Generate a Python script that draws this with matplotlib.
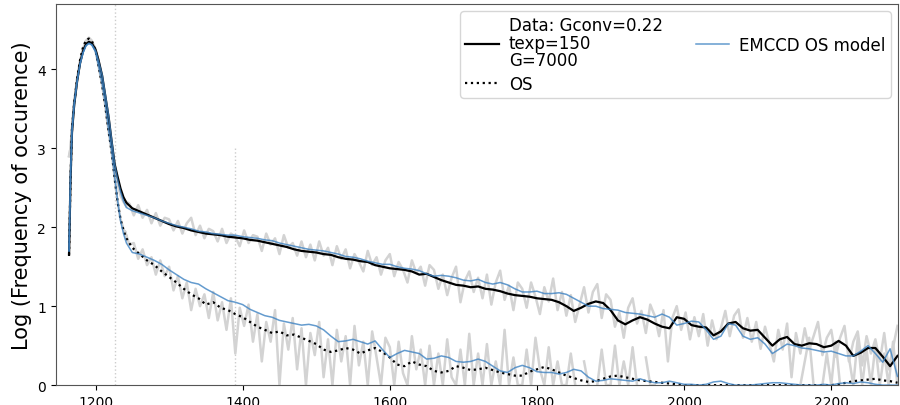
import numpy as np
import matplotlib
matplotlib.use("Agg")
import matplotlib.pyplot as plt

nan = np.nan

# ---- peak region (shared x) ----
peak_x = [1164, 1166, 1168, 1171, 1175, 1179, 1183, 1187, 1191, 1195, 1200,
          1204, 1209, 1213, 1218, 1222, 1226, 1230, 1234, 1238, 1242]
up_black_peak = [1.65, 2.60, 3.20, 3.55, 3.85, 4.08, 4.23, 4.32, 4.35, 4.33, 4.25,
                 4.12, 3.92, 3.68, 3.38, 3.08, 2.80, 2.64, 2.49, 2.38, 2.31]
up_blue_peak = [1.70, 2.65, 3.22, 3.56, 3.85, 4.07, 4.21, 4.30, 4.33, 4.31, 4.24,
                4.11, 3.93, 3.70, 3.40, 3.10, 2.80, 2.60, 2.45, 2.33, 2.25]
lo_black_peak = [1.65, 2.60, 3.25, 3.58, 3.88, 4.12, 4.28, 4.37, 4.39, 4.36, 4.24,
                 4.05, 3.80, 3.55, 3.20, 2.95, 2.62, 2.32, 2.10, 1.96, 1.86]
lo_blue_peak = [1.70, 2.65, 3.22, 3.56, 3.85, 4.07, 4.21, 4.30, 4.33, 4.31, 4.22,
                4.05, 3.82, 3.58, 3.22, 2.96, 2.64, 2.34, 2.08, 1.92, 1.80]
gray_peak = [2.90, 3.00, 3.25, 3.58, 3.88, 4.10, 4.26, 4.36, 4.40, 4.36, 4.26,
             4.10, 3.88, 3.64, 3.32, 3.05, 2.75, 2.55, 2.40, 2.32, 2.26]
gray_lo_peak = [2.90, 3.00, 3.25, 3.58, 3.88, 4.10, 4.26, 4.36, 4.40, 4.36, 4.24,
                4.05, 3.80, 3.55, 3.20, 2.95, 2.62, 2.32, 2.10, 1.98, 1.88]

# ---- smoothed curves, every 10 from 1250 to 2290 ----
up_black = [2.24, 2.20, 2.16, 2.12, 2.08, 2.04, 2.01, 1.99, 1.96, 1.94,
            1.92, 1.91, 1.90, 1.88, 1.87, 1.86, 1.84, 1.83, 1.81, 1.79,
            1.77, 1.75, 1.72, 1.70, 1.69, 1.68, 1.66, 1.65, 1.62, 1.60,
            1.59, 1.57, 1.56, 1.52, 1.50, 1.48, 1.47, 1.46, 1.44, 1.40,
            1.41, 1.37, 1.33, 1.30, 1.27, 1.26, 1.24, 1.25, 1.22, 1.21,
            1.19, 1.16, 1.14, 1.13, 1.12, 1.10, 1.09, 1.08, 1.05, 1.00,
            0.94, 0.98, 1.03, 1.06, 1.04, 0.95, 0.82, 0.77, 0.82, 0.86,
            0.83, 0.78, 0.74, 0.72, 0.86, 0.84, 0.76, 0.74, 0.73, 0.63,
            0.68, 0.78, 0.80, 0.72, 0.69, 0.70, 0.60, 0.50, 0.58, 0.61,
            0.52, 0.50, 0.53, 0.52, 0.48, 0.50, 0.56, 0.50, 0.37, 0.41,
            0.47, 0.47, 0.36, 0.24, 0.37]
up_blue = [2.21, 2.18, 2.15, 2.12, 2.08, 2.05, 2.02, 2.00, 1.98, 1.95,
           1.94, 1.92, 1.91, 1.90, 1.90, 1.88, 1.87, 1.86, 1.84, 1.83,
           1.80, 1.78, 1.76, 1.74, 1.72, 1.71, 1.70, 1.68, 1.66, 1.63,
           1.62, 1.60, 1.57, 1.55, 1.53, 1.53, 1.50, 1.48, 1.47, 1.45,
           1.41, 1.38, 1.39, 1.38, 1.36, 1.33, 1.32, 1.34, 1.30, 1.28,
           1.30, 1.27, 1.22, 1.18, 1.18, 1.19, 1.16, 1.16, 1.17, 1.15,
           1.10, 1.05, 1.00, 1.00, 0.97, 0.96, 0.95, 0.92, 0.91, 0.90,
           0.88, 0.86, 0.90, 0.86, 0.76, 0.78, 0.81, 0.80, 0.70, 0.58,
           0.62, 0.78, 0.76, 0.62, 0.58, 0.60, 0.52, 0.40, 0.46, 0.52,
           0.50, 0.47, 0.46, 0.44, 0.42, 0.43, 0.40, 0.37, 0.37, 0.43,
           0.50, 0.40, 0.29, 0.46, 0.11]
lo_black = [1.74, 1.66, 1.58, 1.52, 1.44, 1.37, 1.30, 1.22, 1.15, 1.10,
            1.02, 1.05, 0.98, 0.95, 0.90, 0.86, 0.80, 0.74, 0.70, 0.66,
            0.68, 0.63, 0.64, 0.60, 0.56, 0.52, 0.45, 0.42, 0.44, 0.47,
            0.45, 0.40, 0.44, 0.47, 0.42, 0.35, 0.26, 0.24, 0.30, 0.26,
            0.24, 0.18, 0.16, 0.18, 0.24, 0.22, 0.19, 0.20, 0.22, 0.19,
            0.16, 0.14, 0.12, 0.12, 0.17, 0.20, 0.23, 0.20, 0.16, 0.12,
            0.09, 0.06, 0.04, 0.05, 0.08, 0.11, 0.12, 0.10, 0.08, 0.06,
            0.05, 0.04, 0.03, 0.02, 0.01, 0.00, 0.00, 0.00, 0.00, 0.00,
            0.00, 0.00, 0.00, 0.00, 0.00, 0.00, 0.00, 0.00, 0.00, 0.00,
            0.00, 0.00, 0.00, 0.00, 0.00, 0.00, 0.01, 0.03, 0.05, 0.06,
            0.07, 0.08, 0.06, 0.05, 0.03]
lo_blue = [1.68, 1.66, 1.62, 1.58, 1.53, 1.46, 1.40, 1.34, 1.30, 1.28,
           1.22, 1.17, 1.12, 1.07, 1.05, 1.02, 0.96, 0.92, 0.88, 0.86,
           0.82, 0.80, 0.78, 0.76, 0.77, 0.75, 0.70, 0.62, 0.55, 0.56,
           0.58, 0.55, 0.52, 0.56, 0.45, 0.35, 0.40, 0.44, 0.42, 0.40,
           0.33, 0.34, 0.37, 0.35, 0.30, 0.29, 0.30, 0.33, 0.30, 0.24,
           0.18, 0.16, 0.22, 0.25, 0.22, 0.17, 0.16, 0.16, 0.14, 0.16,
           0.20, 0.18, 0.10, 0.05, 0.06, 0.08, 0.07, 0.06, 0.05, 0.08,
           0.05, 0.03, 0.03, 0.05, 0.03, 0.01, 0.01, 0.00, 0.01, 0.04,
           0.05, 0.02, 0.00, 0.00, 0.00, 0.01, 0.02, 0.03, 0.03, 0.02,
           0.01, 0.00, 0.00, 0.00, 0.01, 0.00, 0.02, 0.03, 0.02, 0.04,
           0.03, 0.01, 0.00, 0.00, 0.00]

# ---- raw (gray) data, every 6 from 1240 to 2290 ----
up_gray = [2.33, 2.30, 2.15, 2.28, 2.12, 2.22, 2.05, 2.18, 2.02, 2.12,
           2.10, 1.96, 2.08, 1.92, 2.05, 2.12, 1.90, 2.02, 1.86, 1.98,
           1.95, 1.82, 1.98, 1.80, 1.92, 1.88, 1.76, 1.96, 1.80, 1.90,
           1.88, 1.70, 1.92, 1.78, 1.86, 1.66, 1.90, 1.74, 1.80, 1.64,
           1.82, 1.62, 1.78, 1.58, 1.82, 1.64, 1.74, 1.52, 1.76, 1.60,
           1.72, 1.48, 1.66, 1.56, 1.44, 1.70, 1.52, 1.62, 1.40, 1.58,
           1.66, 1.38, 1.56, 1.46, 1.30, 1.58, 1.42, 1.50, 1.26, 1.52,
           1.46, 1.22, 1.40, 1.14, 1.36, 1.50, 1.05, 1.32, 1.44, 1.18,
           1.36, 1.10, 1.40, 1.02, 1.30, 1.45, 1.08, 1.26, 0.95, 1.30,
           1.22, 0.98, 1.30, 1.12, 0.90, 1.24, 1.06, 1.35, 0.95, 1.18,
           0.88, 1.14, 0.80, 1.02, 1.24, 0.92, 1.18, 1.28, 0.85, 1.15,
           1.08, 0.74, 0.92, 0.60, 0.98, 1.10, 0.78, 0.94, 0.66, 1.02,
           0.88, 0.62, 0.95, 0.30, 0.85, 1.00, 0.70, 0.92, 0.58, 0.86,
           0.62, 0.90, 0.50, 0.82, 0.58, 0.72, 0.94, 0.62, 0.88, 0.96,
           0.60, 0.85, 0.55, 0.80, 0.46, 0.74, 0.52, 0.30, 0.70, 0.45,
           0.78, 0.10, 0.66, 0.40, 0.72, 0.45, 0.62, 0.80, 0.38, 0.60,
           0.70, 0.36, 0.60, 0.75, 0.30, 0.55, 0.68, 0.25, 0.62, 0.40,
           0.58, 0.30, 0.66, 0.20, 0.48, 0.75]
lo_gray = [1.95, 1.78, 1.80, 1.60, 1.72, 1.52, 1.62, 1.40, 1.58, 1.38,
           1.50, 1.20, 1.38, 1.10, 1.30, 0.95, 1.22, 1.00, 1.15, 0.85,
           1.18, 0.82, 1.05, 0.70, 1.10, 0.40, 0.98, 0.75, 1.02, 0.55,
           0.90, 0.30, 0.80, 0.55, 0.95, 0.00, 0.78, 0.45, 0.85, 0.20,
           0.72, 0.00, 0.66, 0.38, 0.80, 0.10, 0.58, 0.00, 0.70, 0.30,
           0.62, 0.00, 0.75, 0.25, 0.55, 0.00, 0.68, 0.35, 0.00, 0.60,
           0.48, 0.00, 0.55, 0.15, 0.00, 0.62, 0.20, 0.45, 0.00, 0.50,
           0.00, 0.40, 0.00, 0.58, 0.10, 0.00, 0.45, 0.00, 0.65, 0.00,
           0.40, 0.00, 0.52, 0.00, 0.30, 0.00, 0.70, 0.00, 0.35, 0.00,
           0.00, 0.45, 0.00, 0.60, 0.20, 0.00, 0.48, 0.00, 0.30, 0.00,
           0.00, 0.40, 0.00, nan, 0.30, 0.00, nan, 0.00, 0.45, 0.00,
           0.00, 0.50, 0.00, 0.30, 0.00, 0.48, 0.00, nan, 0.35, 0.00,
           0.00, nan, nan, 0.00, nan, nan, nan, nan, nan, nan,
           nan, nan, nan, nan, 0.00, nan, nan, nan, nan, nan,
           nan, nan, nan, nan, nan, nan, nan, 0.00, nan, nan,
           0.00, nan, nan, 0.00, 0.30, 0.60, 0.00, nan, 0.00, 0.40,
           0.00, 0.55, 0.00, nan, 0.35, 0.00, 0.60, 0.00, 0.45, 0.00,
           0.50, 0.00, 0.40, 0.00, 0.55, 0.00]

x_smooth = np.concatenate([peak_x, np.arange(1250, 2291, 10)])
x_gray = np.concatenate([peak_x, np.arange(1240, 2291, 6)])

blue = '#3d82c2'
gray = '#d3d3d3'

fig, ax = plt.subplots(figsize=(9, 4.06), dpi=100)
fig.subplots_adjust(left=0.062, right=0.998, bottom=0.049, top=0.988)

ax.plot(x_gray, gray_peak + up_gray, color=gray, lw=1.8, zorder=1)
ax.plot(x_gray, gray_lo_peak + lo_gray, color=gray, lw=1.8, zorder=1)

ax.vlines(1227, 0, 5, color='#cccccc', ls=':', lw=1, zorder=0)
ax.vlines(1390, 0, 3, color='#cccccc', ls=':', lw=1, zorder=0)

l1, = ax.plot(x_smooth, up_black_peak + up_black, color='black', lw=1.6, zorder=2,
              label='Data: Gconv=0.22\ntexp=150\nG=7000')
l2, = ax.plot(x_smooth, lo_black_peak + lo_black, color='black', lw=1.6, ls=':', zorder=2,
              label='OS')
l3, = ax.plot(x_smooth, up_blue_peak + up_blue, color=blue, lw=1.1, alpha=0.8, zorder=3,
              label='EMCCD OS model')
ax.plot(x_smooth, lo_blue_peak + lo_blue, color=blue, lw=1.1, alpha=0.8, zorder=3)

ax.set_xlim(1146, 2291)
ax.set_ylim(0, 4.83)
ax.set_xticks([1200, 1400, 1600, 1800, 2000, 2200])
ax.set_yticks([0, 1, 2, 3, 4])
ax.tick_params(labelsize=10)
ax.set_ylabel('Log (Frequency of occurence)', fontsize=15)
for s in ax.spines.values():
    s.set_color('#555555')

leg = ax.legend(handles=[l1, l2, l3], ncol=2, loc='upper right', fontsize=12,
                borderaxespad=0.45, borderpad=0.3, handletextpad=0.6,
                labelspacing=0.35, columnspacing=2.0)
for t in leg.get_texts():
    t.set_linespacing(0.95)

fig.savefig('out.png')
